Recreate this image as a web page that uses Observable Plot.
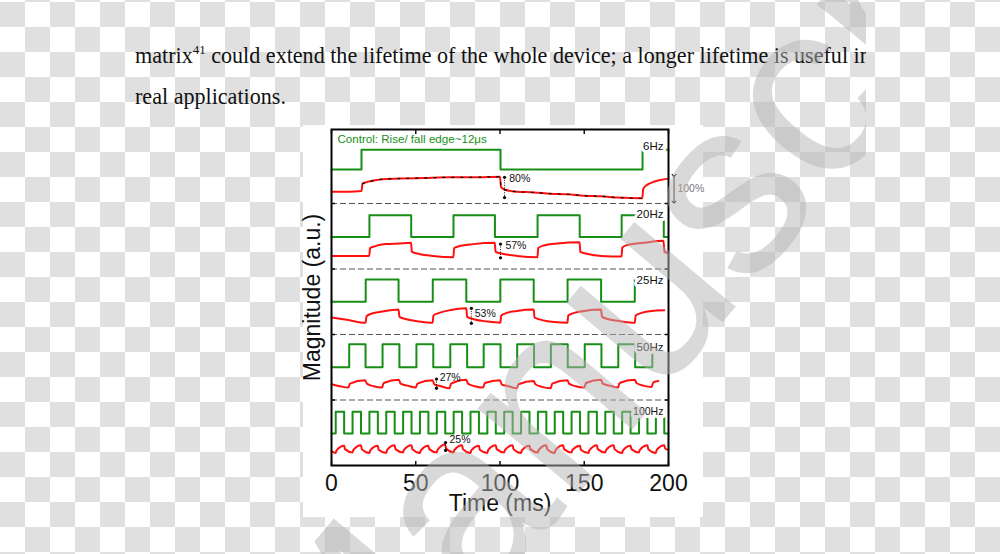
<!DOCTYPE html>
<html><head><meta charset="utf-8">
<script src="https://cdn.jsdelivr.net/npm/d3@7"></script>
<script src="https://cdn.jsdelivr.net/npm/@observablehq/plot@0.6"></script>
<style>
html,body{margin:0;padding:0;width:1000px;height:554px;overflow:hidden;}
body{position:relative;background-color:#fff;background-image:conic-gradient(#fff 25%, #e0e0e0 0 50%, #fff 0 75%, #e0e0e0 0);background-size:50px 50px;background-position:0 2px;}
#para{position:absolute;left:135px;top:0;width:731px;height:120px;overflow:hidden;font-family:"Liberation Serif","Times New Roman",serif;font-size:22.1px;color:#111;}
.line{position:absolute;left:0;white-space:nowrap;line-height:22px;}
.line sup{font-size:13px;position:relative;top:-9px;vertical-align:baseline;}
#panel{position:absolute;left:303px;top:125px;width:400px;height:392px;background:#fff;}
#chart{position:absolute;left:290px;top:120px;}
#wmbox{position:absolute;left:0;top:0;width:866px;height:554px;overflow:hidden;pointer-events:none;}
#wm{position:absolute;left:183px;top:637px;transform:rotate(-50deg);transform-origin:0 0;font-family:"Liberation Sans",Arial,sans-serif;font-size:250px;line-height:1;white-space:nowrap;color:rgba(180,180,180,0.5);}
</style></head>
<body>
<div id="para">
  <div class="line" style="top:45px">matrix<sup>41</sup> could extend the lifetime of the whole device; a longer lifetime is useful in</div>
  <div class="line" style="top:86px">real applications.</div>
</div>
<div id="panel"></div>
<div id="chart"></div>
<div id="wmbox"><div id="wm">Manuscript</div></div>
<script>
// ---- data ----
const freqLabels = ["6Hz", "20Hz", "25Hz", "50Hz", "100Hz"];
const panelBase = [4, 3, 2, 1, 0];
const separators = [1, 2, 3, 4];
const xTicks = [0, 50, 100, 150, 200];
const greenLow = [0.52, 0.49, 0.50, 0.50, 0.49];
const greenHigh = [0.82, 0.82, 0.84, 0.85, 0.82];
const labelY = [0.87, 0.84, 0.82, 0.81, 0.82];

// control (green) edges: [time ms, state 0=low 1=high]
const green6 = [[0,0],[17.8,1],[100.3,0],[184.6,1],[200,1]];
const green20 = [[0,0],[22.5,1],[47.3,0],[72.4,1],[97,0],[122.3,1],[147.3,0],[172.2,1],[197.2,0],[200,0]];
const green25 = [[0,0],[20.3,1],[39.8,0],[60.1,1],[80,0],[100.2,1],[120,0],[140.1,1],[160,0],[180,1]];
const green50 = [[0,0],[10.5,1],[20.2,0],[30.3,1],[40.3,0],[50.4,1],[60.4,0],[70.5,1],[80.5,0],[90.3,1],[100.3,0],[110.2,1],[120.2,0],[130.2,1],[140.2,0],[150.3,1],[160.2,0],[170.2,1],[180.2,0],[190.4,1],[192,1]];
const green100 = [[0,0],[2.5,1],[7.5,0],[12.5,1],[17.5,0],[22.5,1],[27.5,0],[32.5,1],[37.5,0],[42.5,1],[47.5,0],[52.5,1],[57.5,0],[62.5,1],[67.5,0],[72.5,1],[77.5,0],[82.5,1],[87.5,0],[92.5,1],[97.5,0],[102.5,1],[107.5,0],[112.5,1],[117.5,0],[122.5,1],[127.5,0],[132.5,1],[137.5,0],[142.5,1],[147.5,0],[152.5,1],[157.5,0],[162.5,1],[167.5,0],[172.5,1],[177.5,0],[182.5,1],[187.5,0],[192.5,1],[197.5,0],[200,0]];

// response (red) traces: [time ms, magnitude within panel]
const red6 = [[0,0.18],[10,0.18],[17.8,0.19],[18.4,0.30],[20,0.32],[25,0.35],[30,0.37],[40,0.38],[55,0.39],[70,0.40],[85,0.40],[100,0.41],[100.6,0.25],[103,0.21],[110,0.18],[120,0.17],[130,0.15],[140,0.14],[150,0.12],[160,0.11],[170,0.09],[184.4,0.08],[185,0.22],[187,0.28],[190,0.32],[195,0.36],[200,0.38]];
const red20 = [[0,0.20],[22.4,0.20],[22.9,0.32],[26,0.35],[32,0.38],[40,0.39],[47.2,0.40],[47.7,0.26],[52,0.23],[60,0.20],[72.3,0.18],[72.8,0.32],[76,0.35],[84,0.38],[96.9,0.40],[97.4,0.26],[102,0.23],[110,0.20],[122.2,0.18],[122.7,0.32],[126,0.36],[134,0.39],[147.2,0.41],[147.7,0.26],[152,0.23],[160,0.20],[172.1,0.19],[172.6,0.33],[176,0.37],[185,0.40],[197,0.43],[197.6,0.26],[200,0.25]];
const red25 = [[0,0.26],[10,0.22],[20.2,0.18],[20.8,0.28],[24,0.32],[30,0.35],[39.8,0.38],[40.3,0.27],[45,0.23],[52,0.20],[60,0.18],[60.5,0.29],[64,0.33],[70,0.37],[80,0.40],[80.5,0.27],[85,0.23],[92,0.20],[100.2,0.18],[100.7,0.29],[104,0.33],[110,0.36],[120,0.38],[120.5,0.26],[125,0.22],[132,0.19],[140,0.18],[140.5,0.29],[144,0.33],[150,0.36],[160,0.38],[160.5,0.27],[165,0.23],[172,0.20],[180,0.18],[180.5,0.29],[184,0.33],[190,0.36],[197.5,0.37]];
const red50 = [[0,0.24],[5,0.21],[10,0.19],[11,0.25],[20,0.30],[21,0.25],[25,0.21],[30,0.19],[31,0.26],[40,0.31],[41,0.25],[45,0.22],[50,0.19],[51,0.25],[60,0.30],[61,0.24],[65,0.21],[70,0.18],[71,0.25],[80,0.31],[81,0.25],[85,0.21],[90,0.19],[91,0.26],[100,0.30],[101,0.24],[105,0.21],[110,0.18],[111,0.24],[120,0.29],[121,0.24],[125,0.20],[130,0.18],[131,0.25],[140,0.30],[141,0.25],[145,0.21],[150,0.19],[151,0.26],[160,0.31],[161,0.25],[165,0.22],[170,0.19],[171,0.26],[180,0.31],[181,0.26],[185,0.22],[190,0.20],[191,0.27],[194,0.29]];
const red100 = [[0,0.22],[2.5,0.19],[3,0.23],[7.5,0.30],[8,0.25],[12.5,0.20],[13,0.24],[17.5,0.31],[18,0.25],[22.5,0.19],[23,0.23],[27.5,0.30],[28,0.24],[32.5,0.19],[33,0.24],[37.5,0.31],[38,0.25],[42.5,0.20],[43,0.24],[47.5,0.31],[48,0.25],[52.5,0.19],[53,0.23],[57.5,0.30],[58,0.25],[62.5,0.20],[63,0.24],[67.5,0.32],[68,0.26],[72.5,0.20],[73,0.24],[77.5,0.31],[78,0.25],[82.5,0.19],[83,0.23],[87.5,0.30],[88,0.24],[92.5,0.19],[93,0.24],[97.5,0.31],[98,0.25],[102.5,0.20],[103,0.24],[107.5,0.31],[108,0.25],[112.5,0.19],[113,0.23],[117.5,0.30],[118,0.25],[122.5,0.20],[123,0.24],[127.5,0.31],[128,0.25],[132.5,0.19],[133,0.24],[137.5,0.31],[138,0.25],[142.5,0.20],[143,0.24],[147.5,0.30],[148,0.24],[152.5,0.19],[153,0.23],[157.5,0.31],[158,0.25],[162.5,0.20],[163,0.24],[167.5,0.31],[168,0.25],[172.5,0.19],[173,0.23],[177.5,0.30],[178,0.25],[182.5,0.20],[183,0.24],[187.5,0.31],[188,0.25],[192.5,0.19],[193,0.24],[197.5,0.31],[198,0.26],[200,0.24]];

// percentage annotations
const pctLabels = ["80%", "57%", "53%", "27%", "25%"];
const pctT = [102.7, 100.3, 83, 62.3, 67.7];
const pctTop = [0.40, 0.38, 0.40, 0.32, 0.35];
const pctBottom = [0.09, 0.17, 0.17, 0.18, 0.23];
const pctTextT = [105.5, 103.2, 85, 64.2, 70];
const pctTextY = [0.38, 0.35, 0.32, 0.34, 0.40];

const fullLabel = "100%";
const fullT = 203.3, fullTop = 0.43, fullBottom = 0.02, fullTextT = 205.3, fullTextY = 0.23;
const controlNote = "Control: Rise/ fall edge~12μs";
const controlT = 3.5, controlY = 0.98;
const xLabel = "Time (ms)";
const yLabel = "Magnitude (a.u.)";

// ---- build tables ----
const greens = [green6, green20, green25, green50, green100];
const reds = [red6, red20, red25, red50, red100];
const greenRows = greens.flatMap((g, i) => g.map(([t, s]) => ({panel: i, t, v: panelBase[i] + (s ? greenHigh[i] : greenLow[i])})));
const redRows = reds.flatMap((r, i) => r.map(([t, m]) => ({panel: i, t, v: panelBase[i] + m})));
const fitRows = red6.filter(([t]) => t >= 18 && t <= 184.5).map(([t, m]) => ({t, v: panelBase[0] + m}));
const labelRows = freqLabels.map((f, i) => ({f, t: 197, v: panelBase[i] + labelY[i], size: i === 4 ? 10.5 : 11.5}));
const pctRows = pctLabels.map((p, i) => ({p, t: pctT[i], top: panelBase[i] + pctTop[i], bottom: panelBase[i] + pctBottom[i], tt: pctTextT[i], ty: panelBase[i] + pctTextY[i]}));

const GREEN = "#178f17";
const font = "'Liberation Sans', Arial, Helvetica, sans-serif";

const plot = Plot.plot({
  width: 420, height: 400,
  marginLeft: 41, marginRight: 42, marginTop: 9, marginBottom: 55,
  style: {background: "transparent", fontFamily: font, color: "#111", overflow: "visible"},
  x: {domain: [0, 200]},
  y: {domain: [0, 5.13]},
  marks: [
    Plot.ruleY(separators, {stroke: "#555", strokeDasharray: "6,3", strokeWidth: 1}),
    Plot.line(greenRows, {x: "t", y: "v", z: "panel", curve: "step-after", stroke: GREEN, strokeWidth: 2}),
    Plot.line(redRows, {x: "t", y: "v", z: "panel", curve: "monotone-x", stroke: "#ff1010", strokeWidth: 2}),
    Plot.line(fitRows, {x: "t", y: "v", curve: "monotone-x", stroke: "#000", strokeWidth: 1.2, strokeDasharray: "2,7"}),
    Plot.text(labelRows, {x: "t", y: "v", text: "f", textAnchor: "end", fontSize: "size", fill: "#111", stroke: "white", strokeWidth: 6, paintOrder: "stroke"}),
    Plot.link(pctRows, {x1: "t", x2: "t", y1: "top", y2: "bottom", stroke: "#111", strokeWidth: 1, strokeDasharray: "1,1.5", markerStart: "dot", markerEnd: "dot"}),
    Plot.text(pctRows, {x: "tt", y: "ty", text: "p", textAnchor: "start", fontSize: 10.5, fill: "#111"}),
    Plot.link([fullLabel], {x1: () => fullT, x2: () => fullT, y1: () => panelBase[0] + fullTop, y2: () => panelBase[0] + fullBottom, stroke: "#111", strokeWidth: 1, markerStart: "arrow", markerEnd: "arrow"}),
    Plot.text([fullLabel], {x: () => fullTextT, y: () => panelBase[0] + fullTextY, text: d => d, textAnchor: "start", fontSize: 10.5, fill: "#777"}),
    Plot.text([controlNote], {x: () => controlT, y: () => panelBase[0] + controlY, text: d => d, textAnchor: "start", fontSize: 11.6, fill: GREEN}),
    Plot.frame({stroke: "#000", strokeWidth: 2}),
    Plot.axisX({anchor: "bottom", ticks: xTicks, tickSize: -4, tickFormat: () => "", label: null, strokeWidth: 1.5}),
    Plot.axisX({anchor: "top", ticks: xTicks, tickSize: -4, tickFormat: () => "", label: null, strokeWidth: 1.5}),
    Plot.axisY({anchor: "left", ticks: separators, tickSize: -4, tickFormat: () => "", label: null, strokeWidth: 1.5}),
    Plot.axisY({anchor: "right", ticks: separators, tickSize: -4, tickFormat: () => "", label: null, strokeWidth: 1.5}),
    Plot.axisX({anchor: "bottom", ticks: xTicks, tickSize: 0, tickPadding: 9, fontSize: 23, label: null}),
    Plot.text([xLabel], {frameAnchor: "bottom", text: d => d, dy: 38.5, textAnchor: "middle", lineAnchor: "middle", fontSize: 23, fill: "#111"}),
    Plot.text([yLabel], {frameAnchor: "left", text: d => d, rotate: -90, dx: -18.5, textAnchor: "middle", lineAnchor: "middle", fontSize: 23, fill: "#111"})
  ]
});
document.getElementById("chart").appendChild(plot);
</script>
</body></html>
